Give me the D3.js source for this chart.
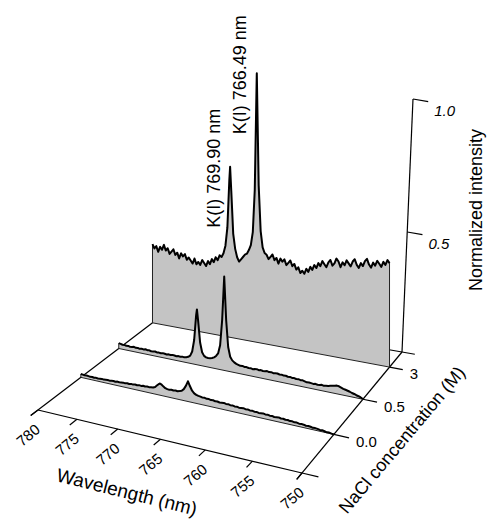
<!DOCTYPE html>
<html>
<head>
<meta charset="utf-8">
<script src="https://cdn.jsdelivr.net/npm/d3@7/dist/d3.min.js"></script>
<style>
  html, body { margin: 0; padding: 0; background: #fff; }
  text { font-family: "Liberation Sans", Arial, Helvetica, sans-serif; fill: #000; }
</style>
</head>
<body>
<svg id="chart" width="495" height="519"></svg>
<script>
// ---- data -------------------------------------------------------------
// sampling grid (nm) plus the two K(I) emission lines
const wavelengthGrid = d3.range(750, 780.125, 0.25);
const lineWavelengths = [769.90, 766.49];
const lineLabels = ["K(I) 769.90 nm", "K(I) 766.49 nm"];
const wavelengths = wavelengthGrid.concat(lineWavelengths).sort(d3.ascending);

const concentrations = ["0.0", "0.5", "3"];

// normalized intensity, ordered by ascending wavelength (750 -> 780 nm)
const intensity00 = [
  0.049,0.050,0.052,0.051,0.053,0.055,0.054,0.056,0.057,0.056,
  0.058,0.059,0.058,0.060,0.061,0.060,0.062,0.061,0.063,0.062,
  0.064,0.063,0.065,0.064,0.066,0.065,0.064,0.066,0.065,0.067,
  0.066,0.068,0.067,0.066,0.068,0.067,0.069,0.068,0.070,0.069,
  0.071,0.070,0.069,0.071,0.070,0.072,0.071,0.073,0.072,0.074,
  0.073,0.072,0.074,0.073,0.075,0.074,0.076,0.075,0.077,0.076,
  0.078,0.079,0.081,0.085,0.093,0.108,
  0.125,
  0.124,0.106,0.092,0.084,0.081,0.079,0.080,0.078,0.079,0.077,0.078,0.080,0.085,0.091,
  0.093,
  0.091,0.084,0.076,0.072,0.071,0.070,0.071,0.069,0.070,0.068,
  0.069,0.067,0.068,0.066,0.067,0.065,0.066,0.064,0.065,0.064,
  0.063,0.064,0.062,0.063,0.062,0.061,0.062,0.061,0.060,0.061,
  0.060,0.059,0.060,0.059,0.060,0.059,0.060,0.061,0.060,0.061,
  0.062
];
const intensity05 = [
  0.050,0.054,0.057,0.059,0.062,0.064,0.067,0.069,0.071,0.073,
  0.076,0.079,0.080,0.078,0.076,0.074,0.072,0.071,0.069,0.071,
  0.069,0.068,0.070,0.068,0.069,0.070,0.069,0.071,0.073,0.072,
  0.074,0.073,0.075,0.074,0.076,0.075,0.077,0.076,0.078,0.077,
  0.079,0.078,0.077,0.079,0.078,0.080,0.078,0.077,0.079,0.077,
  0.079,0.078,0.076,0.078,0.077,0.079,0.078,0.080,0.079,0.081,
  0.083,0.087,0.093,0.105,0.140,0.240,
  0.402,
  0.395,0.235,0.140,0.108,0.097,0.090,0.086,0.084,0.083,0.084,0.088,0.100,0.135,0.215,
  0.257,
  0.235,0.140,0.095,0.078,0.072,0.069,0.067,0.068,0.066,0.067,
  0.065,0.066,0.067,0.065,0.066,0.064,0.065,0.066,0.064,0.065,
  0.064,0.066,0.065,0.064,0.066,0.065,0.067,0.065,0.066,0.064,
  0.066,0.065,0.067,0.065,0.064,0.066,0.065,0.067,0.066,0.068,
  0.069
];
const intensity3 = [
  0.44,0.45,0.43,0.44,0.42,0.43,0.44,0.42,0.43,0.41,
  0.42,0.44,0.43,0.41,0.42,0.40,0.41,0.43,0.42,0.40,
  0.41,0.42,0.40,0.41,0.39,0.41,0.42,0.40,0.39,0.41,
  0.40,0.38,0.39,0.40,0.38,0.39,0.37,0.38,0.36,0.37,
  0.35,0.36,0.34,0.35,0.34,0.36,0.35,0.37,0.36,0.38,
  0.37,0.36,0.38,0.37,0.38,0.36,0.38,0.37,0.39,0.38,
  0.37,0.385,0.39,0.41,0.47,0.64,
  1.06,
  1.05,0.62,0.46,0.41,0.39,0.375,0.37,0.36,0.35,0.34,0.355,0.385,0.44,0.60,
  0.69,
  0.64,0.46,0.39,0.36,0.345,0.35,0.33,0.34,0.32,0.33,
  0.31,0.32,0.30,0.31,0.32,0.30,0.31,0.30,0.32,0.30,
  0.31,0.32,0.31,0.33,0.32,0.33,0.31,0.33,0.32,0.34,
  0.33,0.32,0.34,0.33,0.35,0.33,0.34,0.32,0.34,0.33,
  0.345
];
const spectra = [intensity00, intensity05, intensity3];

const wavelengthTicks = [780, 775, 770, 765, 760, 755, 750];
const intensityTicks = [0.5, 1.0];
const intensityFloor = 0.049;

// ---- projection -------------------------------------------------------
// floor corners: 780 nm / 750 nm at the front and back of the depth axis
const corners = { fl: [38, 410], fr: [302, 473], bl: [168, 311], br: [402, 352] };
// foreshortening along the left / right depth edges and along wavelength
const depthPerspective = { left: 1.23, right: 1.17 };
const wavePerspective = { front: 0.865, back: 0.975 };

const persp = (t, s) => (t * s) / (1 + (s - 1) * t);
const lerp = (a, b, t) => [a[0] + (b[0] - a[0]) * t, a[1] + (b[1] - a[1]) * t];

function floorAt(u, v) {
  const left = lerp(corners.fl, corners.bl, persp(v, depthPerspective.left));
  const right = lerp(corners.fr, corners.br, persp(v, depthPerspective.right));
  const s = wavePerspective.front + (wavePerspective.back - wavePerspective.front) * v;
  return lerp(left, right, persp(u, s));
}

const xScale = d3.scaleLinear().domain([780, 750]).range([0, 1]);
const depthScale = d3.scalePoint().domain(concentrations).range([0, 1]).padding(0.75).align(2 / 3);
const zScale = d3.scaleLinear().domain([intensityFloor, 1.0]).range([0, 253]);

const depthOf = c => (typeof c === "number" ? c : depthScale(c));
function project(wl, c, value) {
  const [x, y] = floorAt(xScale(wl), depthOf(c));
  return [x, y - zScale(value)];
}

// ---- drawing ----------------------------------------------------------
const svg = d3.select("#chart");
const line = d3.line();
function seg(g, a, b, w = 1.2) {
  g.append("path").attr("d", line([a, b]))
    .attr("stroke", "#000").attr("stroke-width", w).attr("fill", "none");
}

const frame = svg.append("g");
const wlTickLen = 1.6;   // nm, concentration ticks run along wavelength
const depthTickLen = 0.045;
const backDepth = 1, frontDepth = 0;

// floor outline
seg(frame, project(780, backDepth, intensityFloor), project(750, backDepth, intensityFloor));
seg(frame, project(780, -depthTickLen, intensityFloor), project(780, backDepth, intensityFloor));
seg(frame, project(750, -depthTickLen, intensityFloor), project(750, backDepth, intensityFloor));
seg(frame, project(780, frontDepth, intensityFloor), project(750, frontDepth, intensityFloor));

// wavelength ticks + labels
wavelengthTicks.forEach(wl => {
  const p0 = project(wl, frontDepth, intensityFloor);
  const p1 = project(wl, -depthTickLen, intensityFloor);
  seg(frame, p0, p1);
  frame.append("text")
    .attr("transform", `translate(${p0[0] - 10},${p0[1] + 25}) rotate(-40)`)
    .attr("text-anchor", "middle").attr("dominant-baseline", "central")
    .attr("font-size", 15).text(wl);
});

// concentration ticks (front, each spectrum, back) + labels
const depthTicks = [frontDepth, ...concentrations, backDepth];
depthTicks.forEach(c => {
  const p0 = project(750, c, intensityFloor);
  const p1 = project(750 - wlTickLen, c, intensityFloor);
  seg(frame, p0, p1);
  if (typeof c === "string") {
    frame.append("text")
      .attr("x", p1[0] + 7).attr("y", p1[1] + 4)
      .attr("dominant-baseline", "central")
      .attr("font-size", 15).text(c);
  }
});

// intensity axis at the back-right corner, leaning slightly with height
const axisLean = 11 / 253;
const axisPoint = (wl, value) => {
  const p = project(wl, backDepth, value);
  return [p[0] + axisLean * zScale(value), p[1]];
};
seg(frame, axisPoint(750, intensityFloor), axisPoint(750, 1.0));
intensityTicks.forEach(t => {
  const p0 = axisPoint(750, t);
  const p1 = axisPoint(750 - 1.9, t);
  seg(frame, p0, p1);
  frame.append("text")
    .attr("x", p1[0] + 6).attr("y", p1[1] + 9)
    .attr("dominant-baseline", "central")
    .attr("font-size", 15).attr("font-style", "italic")
    .text(d3.format(".1f")(t));
});

// spectra, back to front
const planes = svg.append("g");
concentrations.map((c, i) => ({ c, values: spectra[i] })).reverse().forEach(({ c, values }) => {
  const curve = wavelengths.map((wl, j) => project(wl, c, values[j]));
  const b750 = project(750, c, intensityFloor);
  const b780 = project(780, c, intensityFloor);
  const g = planes.append("g");
  g.append("path")
    .attr("d", line([b750, ...curve, b780]) + "Z")
    .attr("fill", "#c4c4c4").attr("stroke", "none");
  [[b750, b780], [b750, curve[0]], [b780, curve[curve.length - 1]]].forEach(pts => {
    g.append("path").attr("d", line(pts))
      .attr("stroke", "#222").attr("stroke-width", 1).attr("fill", "none");
  });
  g.append("path").attr("d", line(curve))
    .attr("stroke", "#000").attr("stroke-width", 2)
    .attr("stroke-linejoin", "round").attr("fill", "none");
});

// emission line labels beside the highest-concentration peaks
lineWavelengths.forEach((wl, i) => {
  const j = wavelengths.indexOf(wl);
  const top = project(wl, "3", intensity3[j]);
  svg.append("text")
    .attr("transform", `translate(${top[0] - 10.5},${top[1] + 61}) rotate(-90)`)
    .attr("font-size", 18).text(lineLabels[i]);
});

// axis titles
svg.append("text")
  .attr("transform", "translate(127,492) rotate(14)")
  .attr("text-anchor", "middle").attr("dominant-baseline", "central")
  .attr("font-size", 19).text("Wavelength (nm)");
svg.append("text")
  .attr("transform", "translate(402,440) rotate(-50)")
  .attr("text-anchor", "middle").attr("dominant-baseline", "central")
  .attr("font-size", 18).text("NaCl concentration (M)");
svg.append("text")
  .attr("transform", "translate(476,210) rotate(-90)")
  .attr("text-anchor", "middle").attr("dominant-baseline", "central")
  .attr("font-size", 18).text("Normalized intensity");

if (spectra.some(s => s.length !== wavelengths.length)) {
  throw new Error("spectrum length mismatch: " + spectra.map(s => s.length) + " vs " + wavelengths.length);
}
</script>
</body>
</html>
